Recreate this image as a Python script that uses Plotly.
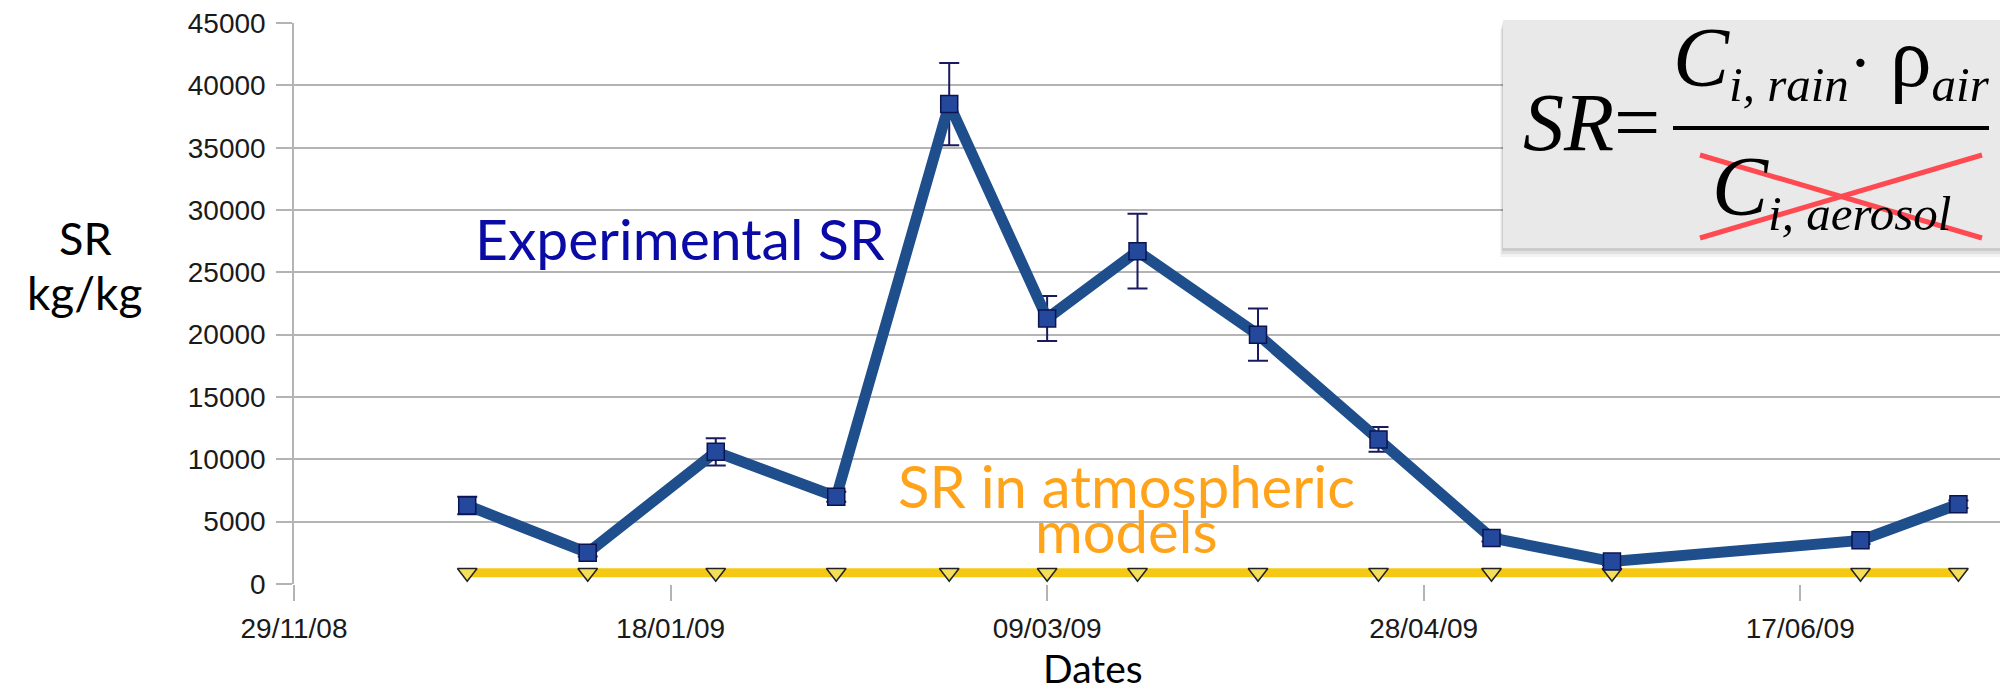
import plotly.graph_objects as go

# ---------------- data ----------------
dates = ['2008-12-22', '2009-01-07', '2009-01-24', '2009-02-09', '2009-02-24',
         '2009-03-09', '2009-03-21', '2009-04-06', '2009-04-22', '2009-05-07',
         '2009-05-23', '2009-06-25', '2009-07-08']
sr_experimental = [6300, 2500, 10600, 7000, 38500, 21300, 26700, 20000, 11600,
                   3700, 1800, 3500, 6400]
sr_error = [700, 300, 1100, 400, 3300, 1800, 3000, 2100, 1000, 300, 300, 300, 300]
sr_model = [900, 900, 900, 900, 900, 900, 900, 900, 900, 900, 900, 900, 900]

x_tick_vals = ['2008-11-29', '2009-01-18', '2009-03-09', '2009-04-28', '2009-06-17']
x_tick_text = ['29/11/08', '18/01/09', '09/03/09', '28/04/09', '17/06/09']
y_tick_vals = [0, 5000, 10000, 15000, 20000, 25000, 30000, 35000, 40000, 45000]

# ---------------- geometry helpers (page has an 8px body margin) ----------------
OFF = 8
W, H = 2008 - OFF, 695 - OFF
L, R, T = 294 - OFF, 0, 23 - OFF
B = H - (584 - OFF)
PW, PH = W - L - R, H - T - B


def px(x):
    return (x - OFF - L) / PW


def py(y):
    return (H - B - (y - OFF)) / PH


fig = go.Figure()

fig.add_trace(go.Scatter(
    x=dates, y=sr_model, mode='lines+markers',
    line=dict(color='#f5c814', width=9),
    marker=dict(symbol='triangle-down', size=17, color='#f3df5a',
                line=dict(color='#222222', width=1.5)),
    showlegend=False, hoverinfo='skip'))

fig.add_trace(go.Scatter(
    x=dates, y=sr_experimental, mode='lines+markers',
    line=dict(color='#1f4e8d', width=11),
    marker=dict(symbol='square', size=17, color='#24489c',
                line=dict(color='#0c1450', width=1.5)),
    error_y=dict(type='data', array=sr_error, visible=True,
                 color='#1a1a5e', thickness=2, width=10),
    showlegend=False, hoverinfo='skip'))

grid_col = '#b4b4b4'
tick_font = dict(family='Liberation Sans, Arial, sans-serif', size=28, color='#1a1a1a')

fig.update_xaxes(
    type='date', range=['2008-11-29', '2009-07-14 14:00'],
    tickmode='array', tickvals=x_tick_vals, ticktext=x_tick_text,
    ticks='outside', ticklen=16, tickcolor=grid_col, tickwidth=1.5,
    showgrid=False, zeroline=False, showline=False,
    tickfont=tick_font, ticklabelstandoff=3)

fig.update_yaxes(
    range=[0, 45003], tickmode='array', tickvals=y_tick_vals, tickformat='d',
    ticks='outside', ticklen=16, tickcolor=grid_col, tickwidth=1.5,
    showgrid=True, gridcolor=grid_col, gridwidth=1.5,
    zeroline=False, showline=True, linecolor=grid_col, linewidth=1.5,
    tickfont=tick_font, ticklabelstandoff=5, ticklabeloverflow='allow')

shapes = []
# formula box shadow + box
for off, a in [(9, 0.05), (6, 0.07), (3, 0.09)]:
    shapes.append(dict(type='rect', xref='paper', yref='paper', layer='above',
                       x0=px(1503 - off * 0.3), x1=px(2012), y0=py(248 + off), y1=py(20 + off),
                       fillcolor='rgba(0,0,0,%s)' % a, line=dict(width=0)))
shapes.append(dict(type='rect', xref='paper', yref='paper', layer='above',
                   x0=px(1503), x1=px(2012), y0=py(248), y1=py(20),
                   fillcolor='#e9e9e9', line=dict(width=0)))
# fraction bar
shapes.append(dict(type='line', xref='paper', yref='paper', layer='above',
                   x0=px(1673), x1=px(1989), y0=py(128), y1=py(128),
                   line=dict(color='#000000', width=4)))

serif = 'Liberation Serif, Times New Roman, serif'
futura = 'Lato, Noto Sans, sans-serif'
fsz = 70
big = '<span style="font-size:84px">%s</span>'
annotations = [
    dict(text='<i>SR</i>=', x=px(1662), y=py(122), xanchor='right', yanchor='middle',
         font=dict(family=serif, size=82, color='#000')),
    dict(text='<i>' + big % 'C' + '</i><sub><i>i, rain</i></sub>· ' + big % 'ρ' + '<sub><i>air</i></sub>',
         x=px(1831), y=py(62), xanchor='center', yanchor='middle',
         font=dict(family=serif, size=fsz, color='#000')),
    dict(text='<i>' + big % 'C' + '</i><sub><i>i, aerosol</i></sub>',
         x=px(1831), y=py(190), xanchor='center', yanchor='middle',
         font=dict(family=serif, size=fsz, color='#000')),
    dict(text='Experimental SR', x=px(680), y=py(238), xanchor='center', yanchor='middle',
         font=dict(family=futura, size=57, color='#0a0aa6')),
    dict(text='SR in atmospheric', x=px(1126), y=py(485), xanchor='center', yanchor='middle',
         font=dict(family=futura, size=58, color='#ffa31a')),
    dict(text='models', x=px(1126), y=py(530), xanchor='center', yanchor='middle',
         font=dict(family=futura, size=58, color='#ffa31a')),
    dict(text='SR', x=px(85), y=py(238), xanchor='center', yanchor='middle',
         font=dict(family=futura, size=45, color='#000')),
    dict(text='kg/kg', x=px(84), y=py(292), xanchor='center', yanchor='middle',
         font=dict(family=futura, size=46, color='#000')),
    dict(text='Dates', x=px(1093), y=py(668), xanchor='center', yanchor='middle',
         font=dict(family=futura, size=39, color='#000')),
]
for a in annotations:
    a['xref'] = 'paper'
    a['yref'] = 'paper'
    a['showarrow'] = False

# red cross over denominator
shapes.append(dict(type='line', xref='paper', yref='paper', layer='above',
                   x0=px(1700), x1=px(1982), y0=py(155), y1=py(238),
                   line=dict(color='#ff4a52', width=5)))
shapes.append(dict(type='line', xref='paper', yref='paper', layer='above',
                   x0=px(1700), x1=px(1982), y0=py(238), y1=py(155),
                   line=dict(color='#ff4a52', width=5)))

fig.update_layout(
    width=W, height=H, margin=dict(l=L, r=R, t=T, b=B),
    paper_bgcolor='white', plot_bgcolor='white',
    shapes=shapes, annotations=annotations, showlegend=False)

fig.write_html('out.html')
